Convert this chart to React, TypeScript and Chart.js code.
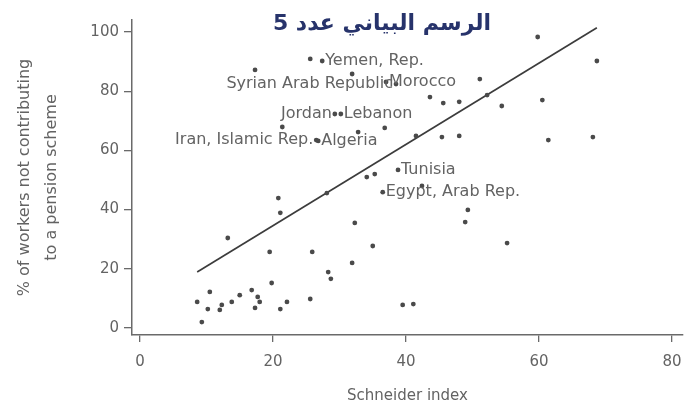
import React, { useEffect, useRef } from 'react';
import { Chart, registerables } from 'chart.js';

Chart.register(...registerables);

const TITLE = 'الرسم البياني عدد 5';
const X_TITLE = 'Schneider index';
const Y_TITLE = ['% of workers not contributing', 'to a pension scheme'];
const X_TICKS = [0, 20, 40, 60, 80];
const Y_TICKS = [0, 20, 40, 60, 80, 100];

// unlabelled countries
const pointX = [
  59.8, 68.7, 51.1, 43.6, 45.6, 48.0, 52.2, 54.4, 60.5, 41.5, 45.4, 48.0, 61.4, 68.1,
  17.3, 25.6, 31.9, 32.8, 36.8, 21.4,
  34.1, 35.3, 42.4, 49.3, 48.9, 55.2, 20.8, 21.1, 28.1, 13.2, 32.3, 19.5, 25.9, 35.0,
  31.9, 28.3, 28.7, 19.8, 25.6, 39.5, 41.1,
  10.5, 8.6, 10.2, 9.3, 12.3, 12.0, 13.8, 15.0, 16.8, 17.7, 18.0, 17.3, 22.1, 21.1,
];
const pointY = [
  98.3, 90.2, 84.1, 78.0, 76.0, 76.4, 78.7, 75.0, 77.0, 64.9, 64.5, 64.9, 63.5, 64.5,
  87.2, 90.9, 85.8, 66.2, 67.6, 67.9,
  51.0, 52.0, 48.0, 39.9, 35.8, 28.7, 43.9, 38.9, 45.6, 30.4, 35.5, 25.7, 25.7, 27.7,
  22.0, 18.9, 16.6, 15.2, 9.8, 7.8, 8.1,
  12.2, 8.8, 6.4, 2.0, 7.8, 6.1, 8.8, 11.1, 12.8, 10.5, 8.8, 6.8, 8.8, 6.4,
];

// labelled countries
const countryNames = [
  'Yemen, Rep.', 'Syrian Arab Republic', 'Morocco', 'Jordan', 'Lebanon',
  'Iran, Islamic Rep.', 'Algeria', 'Tunisia', 'Egypt, Arab Rep.',
];
const countryX = [27.4, 38.5, 37.0, 29.3, 30.2, 26.5, 26.8, 38.8, 36.5];
const countryY = [90.2, 82.4, 83.1, 72.3, 72.3, 63.5, 63.2, 53.4, 45.9];
const countryClock = [3, 9, 3, 9, 3, 9, 3, 3, 3];

// fitted line end points
const fitX = [8.6, 68.7];
const fitY = [18.9, 101.4];

const FONT = '"DejaVu Sans", sans-serif';
const TEXT = '#636363';
const AXIS = '#6a6a6a';

const labelPlugin = {
  id: 'countryLabels',
  afterDatasetsDraw(chart: any) {
    const ctx = chart.ctx;
    const meta = chart.getDatasetMeta(1);
    ctx.save();
    ctx.font = `16px ${FONT}`;
    ctx.fillStyle = TEXT;
    ctx.textBaseline = 'middle';
    meta.data.forEach((el: any, i: number) => {
      const gap = 3;
      if (countryClock[i] === 9) {
        ctx.textAlign = 'right';
        ctx.fillText(countryNames[i], el.x - gap, el.y);
      } else {
        ctx.textAlign = 'left';
        ctx.fillText(countryNames[i], el.x + gap, el.y);
      }
    });
    ctx.direction = 'rtl';
    ctx.font = `bold 22px ${FONT}`;
    ctx.fillStyle = '#27336b';
    ctx.textAlign = 'center';
    ctx.textBaseline = 'middle';
    ctx.fillText(TITLE, 382, 24);
    ctx.restore();
  },
};

export default function App() {
  const ref = useRef<HTMLCanvasElement | null>(null);
  useEffect(() => {
    if (!ref.current) return;
    const pts = (xs: number[], ys: number[]) => xs.map((x, i) => ({ x, y: ys[i] }));
    const chart = new Chart(ref.current, {
      type: 'scatter',
      data: {
        datasets: [
          {
            data: pts(pointX, pointY),
            pointRadius: 2.4,
            pointBackgroundColor: '#4a4a4a',
            pointBorderWidth: 0,
          },
          {
            data: pts(countryX, countryY),
            pointRadius: 2.4,
            pointBackgroundColor: '#4a4a4a',
            pointBorderWidth: 0,
          },
          {
            type: 'line',
            data: pts(fitX, fitY),
            borderColor: '#3c3c3c',
            borderWidth: 1.7,
            pointRadius: 0,
            fill: false,
          } as any,
        ],
      },
      options: {
        animation: false,
        responsive: true,
        maintainAspectRatio: false,
        layout: { padding: { top: 20, right: 16, bottom: 0, left: 0 } },
        plugins: { legend: { display: false }, tooltip: { enabled: false } },
        scales: {
          x: {
            type: 'linear',
            min: -1.2,
            max: 81.65,
            afterBuildTicks: (s: any) => { s.ticks = X_TICKS.map((v) => ({ value: v })); },
            afterFit: (s: any) => { s.height = 81; },
            grid: { drawOnChartArea: false, drawTicks: true, tickLength: 7, color: AXIS, lineWidth: 1.3 },
            border: { display: true, color: AXIS, width: 1.5 },
            ticks: { padding: 11, color: TEXT, font: { family: FONT, size: 15 }, maxRotation: 0 },
            title: { display: true, text: X_TITLE, color: TEXT, font: { family: FONT, size: 15 }, padding: { top: 0, bottom: 11 } },
          },
          y: {
            type: 'linear',
            min: -2.36,
            max: 104.05,
            afterBuildTicks: (s: any) => { s.ticks = Y_TICKS.map((v) => ({ value: v })); },
            afterFit: (s: any) => { s.width = 132; },
            grid: { drawOnChartArea: false, drawTicks: true, tickLength: 8, color: AXIS, lineWidth: 1.3 },
            border: { display: true, color: AXIS, width: 1.5 },
            ticks: { padding: 5, color: TEXT, font: { family: FONT, size: 15 } },
            title: { display: true, text: Y_TITLE, color: TEXT, font: { family: FONT, size: 16, lineHeight: 1.7 }, padding: { top: 11, bottom: 0 } },
          },
        },
      },
      plugins: [labelPlugin],
    } as any);
    return () => chart.destroy();
  }, []);
  return (
    <div style={{ position: 'absolute', left: 0, top: 0, width: 699, height: 416, background: '#fff' }}>
      <canvas ref={ref} />
    </div>
  );
}
